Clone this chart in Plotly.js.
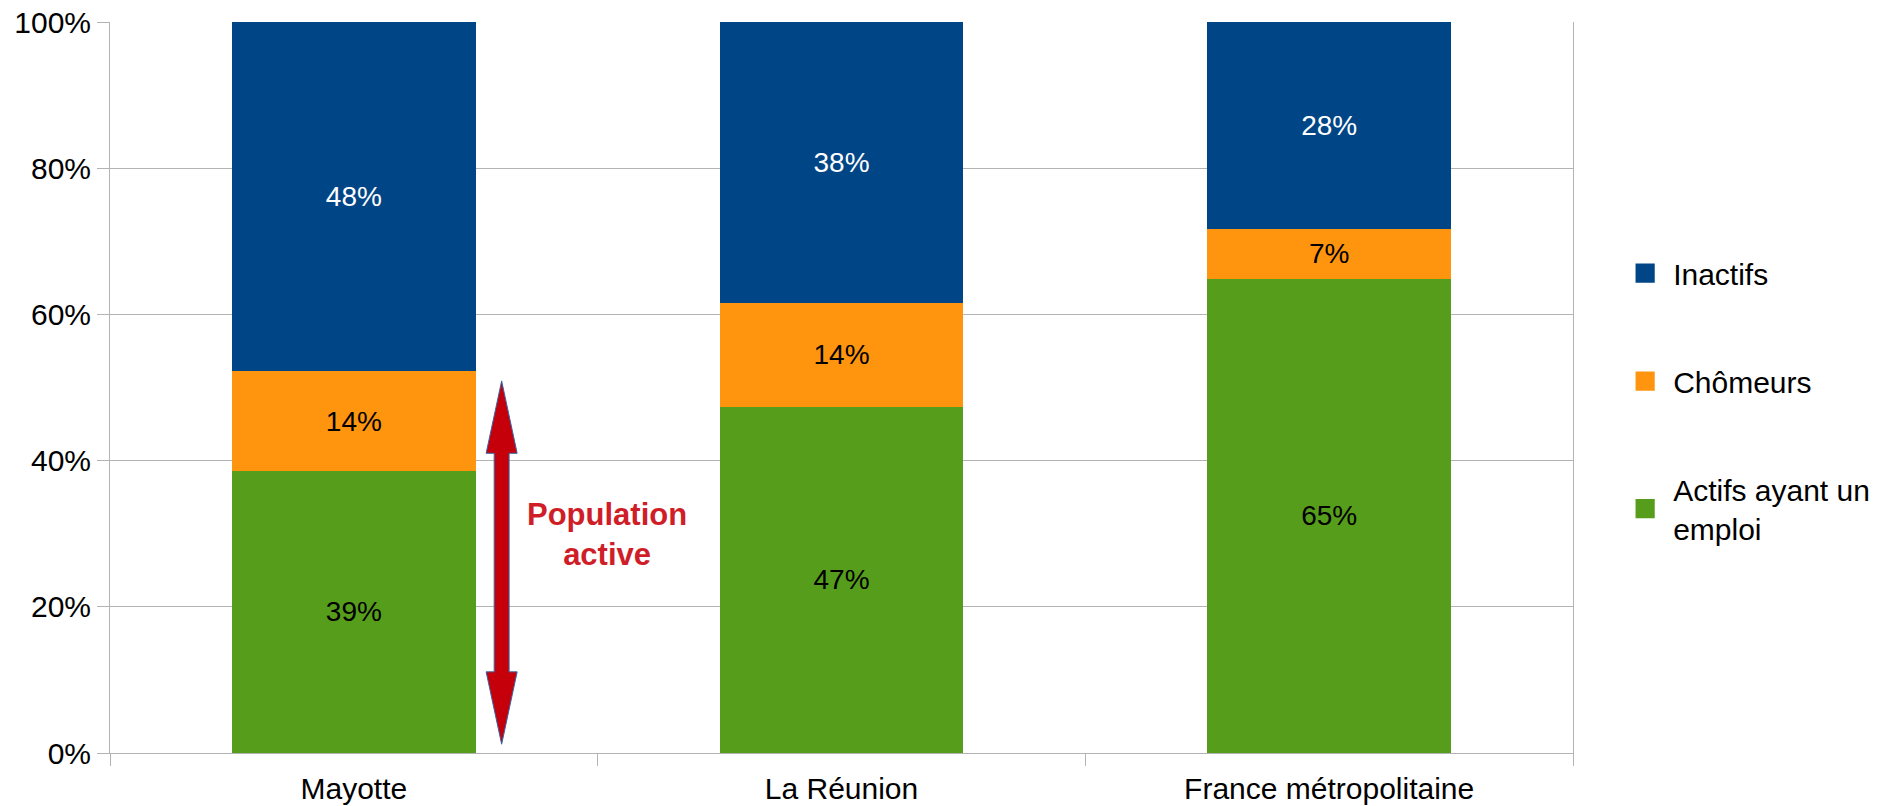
<!DOCTYPE html>
<html>
<head>
<meta charset="utf-8">
<script src="https://cdn.plot.ly/plotly-3.0.1.min.js"></script>
<style>
  html, body { margin: 0; padding: 0; background: #ffffff; }
  #chart { width: 1899px; height: 806px; }
</style>
</head>
<body>
<div id="chart"></div>
<script>
// ---- Data ----
const categories = ["Mayotte", "La Réunion", "France métropolitaine"];
const actifsEmploi = [38.6, 47.4, 64.9];   // Actifs ayant un emploi (%)
const chomeurs     = [13.6, 14.2, 6.8];    // Chômeurs (%)
const inactifs     = [47.8, 38.4, 28.3];   // Inactifs (%)
const seriesNames  = ["Actifs ayant un<br>emploi", "Chômeurs", "Inactifs"];
const legendRanks  = [3, 2, 1];
const yTickValues  = [0, 20, 40, 60, 80, 100];
const yTickLabels  = ["0%", "20%", "40%", "60%", "80%", "100%"];
const noteText     = "<b>Population<br>active</b>";

const FONT = '"Liberation Sans", Arial, Helvetica, sans-serif';
const colors = ["#579d1c", "#ff950e", "#004586"];
const labelColors = ["#000000", "#000000", "#ffffff"];
const seriesValues = [actifsEmploi, chomeurs, inactifs];

const traces = seriesValues.map((vals, i) => ({
  type: "bar",
  name: seriesNames[i],
  x: categories,
  y: vals,
  legendgroup: "g" + i,
  legendrank: legendRanks[i],
  marker: { color: colors[i], line: { width: 0 } },
  texttemplate: "%{y:.0f}%",
  textposition: "inside",
  insidetextanchor: "middle",
  textangle: 0,
  constraintext: "none",
  textfont: { family: FONT, size: 28, color: labelColors[i] },
  hoverinfo: "skip"
}));

// Double-headed arrow (annotation geometry: x in paper fraction, y in %)
const ax = 0.2677, sh = 0.0051, hh = 0.0106;
const yTop = 50.9, yTopBase = 41.0, yBot = 1.2, yBotBase = 11.1;
const arrowPath =
  `M${ax},${yTop} L${ax + hh},${yTopBase} L${ax + sh},${yTopBase} ` +
  `L${ax + sh},${yBotBase} L${ax + hh},${yBotBase} L${ax},${yBot} ` +
  `L${ax - hh},${yBotBase} L${ax - sh},${yBotBase} L${ax - sh},${yTopBase} ` +
  `L${ax - hh},${yTopBase} Z`;

const layout = {
  width: 1899,
  height: 806,
  margin: { l: 110, r: 326, t: 22, b: 53, autoexpand: false },
  paper_bgcolor: "#ffffff",
  plot_bgcolor: "#ffffff",
  font: { family: FONT, size: 30, color: "#000000" },
  barmode: "stack",
  bargap: 0.5,
  showlegend: true,
  legend: {
    traceorder: "grouped",
    tracegroupgap: 66,
    x: 0.86,
    xref: "container",
    xanchor: "left",
    y: 0.482,
    yanchor: "middle",
    font: { family: FONT, size: 30, color: "#000000" },
    bgcolor: "rgba(0,0,0,0)",
    borderwidth: 0,
    itemclick: false
  },
  xaxis: {
    type: "category",
    tickson: "boundaries",
    ticks: "outside",
    ticklen: 12,
    tickcolor: "#b3b3b3",
    ticklabelstandoff: 9,
    showline: true,
    linecolor: "#b3b3b3",
    linewidth: 1,
    showgrid: false,
    tickfont: { family: FONT, size: 30, color: "#000000" },
    fixedrange: true
  },
  yaxis: {
    range: [0, 100],
    tickvals: yTickValues,
    ticktext: yTickLabels,
    ticks: "outside",
    ticklen: 12,
    tickcolor: "#b3b3b3",
    showline: true,
    mirror: true,
    linecolor: "#b3b3b3",
    linewidth: 1,
    showgrid: true,
    gridcolor: "#b3b3b3",
    gridwidth: 1,
    zeroline: false,
    tickfont: { family: FONT, size: 30, color: "#000000" },
    fixedrange: true
  },
  shapes: [{
    type: "path",
    xref: "paper",
    yref: "y",
    path: arrowPath,
    fillcolor: "#c5000b",
    line: { color: "#3465a4", width: 1 },
    layer: "above"
  }],
  annotations: [{
    xref: "paper",
    yref: "y",
    x: 0.3397,
    y: 29.9,
    text: noteText,
    showarrow: false,
    font: { family: FONT, size: 31, color: "#cf1e28" },
    align: "center",
    xanchor: "center",
    yanchor: "middle"
  }]
};

Plotly.newPlot("chart", traces, layout, { staticPlot: true, displayModeBar: false })
  .then(() => {
    document.querySelectorAll("#chart .legendpoints path").forEach(p => {
      const t = p.getAttribute("transform") || "";
      p.setAttribute("transform", t + " translate(-8,0) scale(1.6)");
    });
  });
</script>
</body>
</html>
